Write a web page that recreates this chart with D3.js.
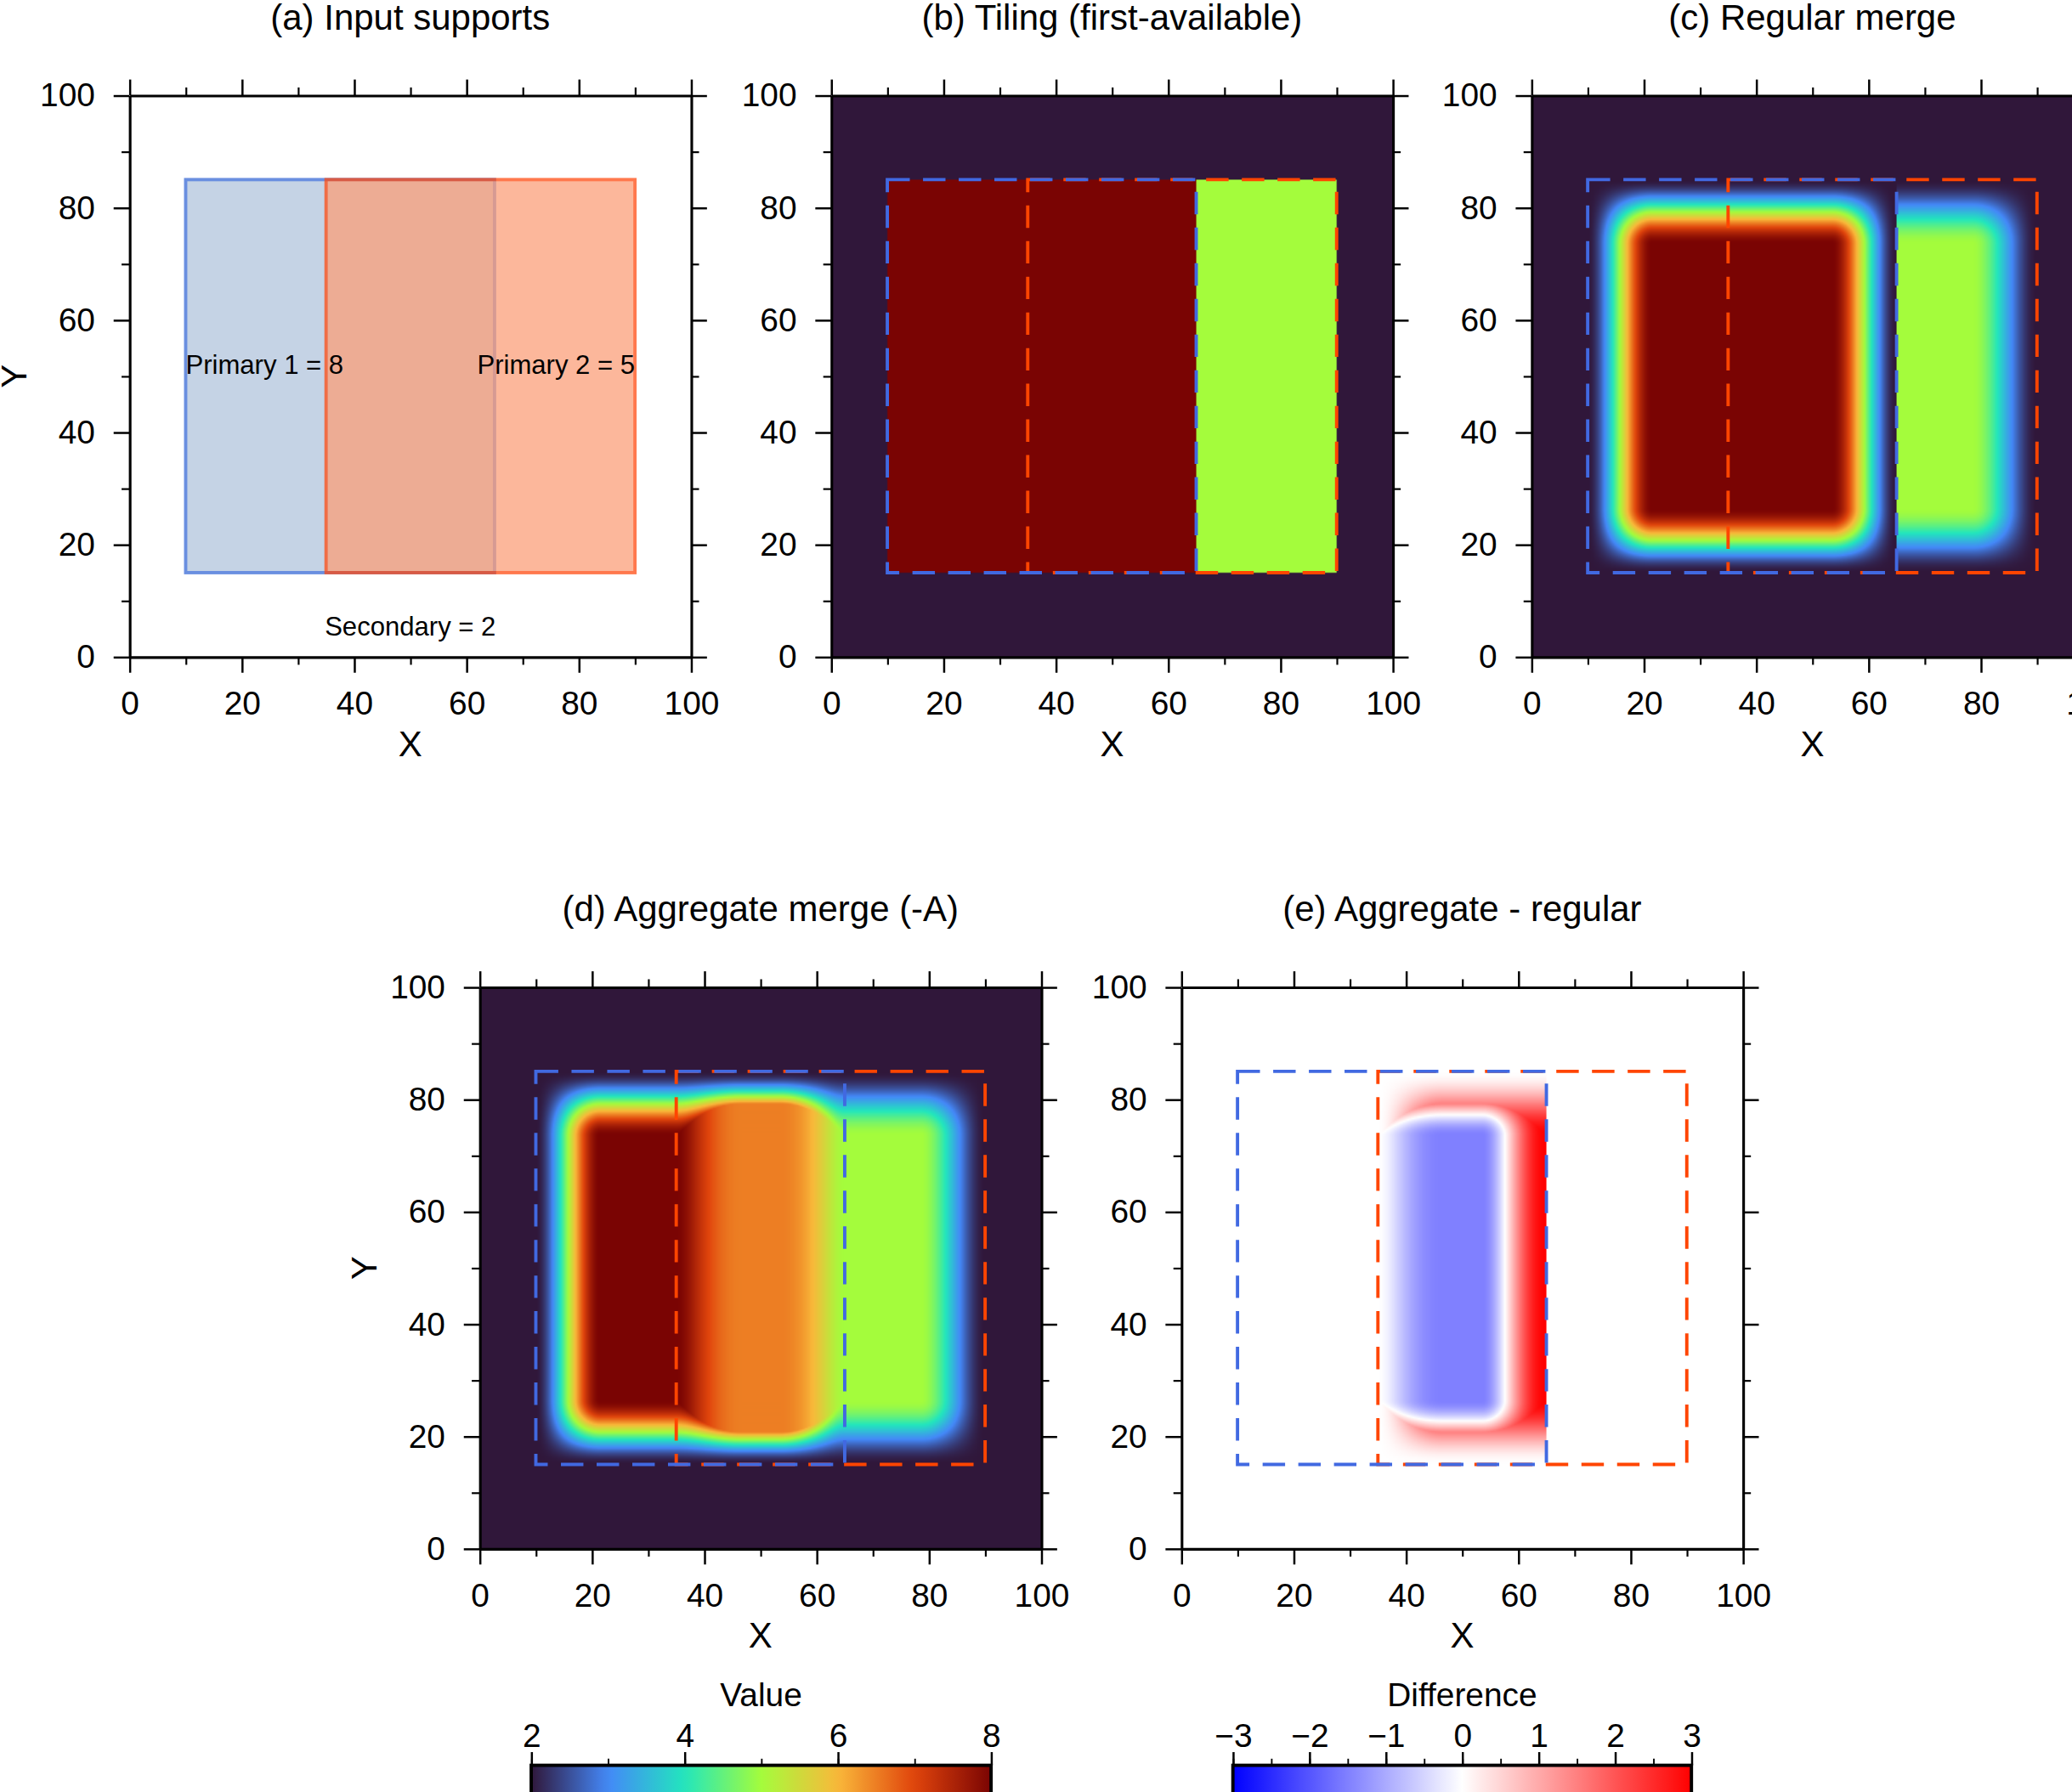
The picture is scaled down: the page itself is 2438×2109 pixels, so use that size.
<!DOCTYPE html>
<html>
<head>
<meta charset="utf-8">
<script src="https://cdn.jsdelivr.net/npm/d3@7"></script>
<style>
  body { margin: 0; background: #fff; }
  text { font-family: "Liberation Sans", Arial, sans-serif; fill: #000; }
</style>
</head>
<body>
<div id="chart"></div>
<script>
// supports: [x0, x1, y0, y1, value]
var primary1 = [10, 65, 15, 85, 8];
var primary2 = [35, 90, 15, 85, 5];
var secondaryValue = 2;
var featherWidth = 11.5;

var panelTitles = ["(a) Input supports", "(b) Tiling (first-available)", "(c) Regular merge",
                   "(d) Aggregate merge (-A)", "(e) Aggregate - regular"];
var axisTicks = [0, 20, 40, 60, 80, 100];
var valueTicks = [2, 4, 6, 8];
var diffTicks = [-3, -2, -1, 0, 1, 2, 3];
var valueStops = [2, 3, 4, 5, 6, 7, 8];
var valueColors = ["#30173a", "#4488f8", "#22e6bd", "#a4fc3c", "#f9b83a", "#e0440c", "#7a0403"];

var svgWidth = 2438, svgHeight = 2109;
var vbW = 1568, vbH = 1356;
var size = 425;

var svg = d3.select("#chart").append("svg")
  .attr("width", svgWidth)
  .attr("height", svgHeight)
  .attr("viewBox", `0 0 ${vbW} ${vbH}`);

var panels = [
  {x: 98, y: 72, ylab: true},
  {x: 629, y: 72, ylab: false},
  {x: 1159, y: 72, ylab: false},
  {x: 363, y: 747, ylab: true},
  {x: 894, y: 747, ylab: false}
];

var turbo = d3.scaleLinear().domain(valueStops).range(valueColors).clamp(true);
var diffColor = d3.scaleLinear().domain([-3, 0, 3]).range(["#0000ff", "#ffffff", "#ff0000"]).clamp(true);

function smooth(t) { t = Math.max(0, Math.min(1, t)); return t * t * (3 - 2 * t); }
function inside(s, x, y) { return x >= s[0] && x <= s[1] && y >= s[2] && y <= s[3]; }
function weight(s, x, y) {
  if (!inside(s, x, y)) return 0;
  return smooth((x - s[0]) / featherWidth) * smooth((s[1] - x) / featherWidth) *
         smooth((y - s[2]) / featherWidth) * smooth((s[3] - y) / featherWidth);
}
function tiling(x, y) {
  if (inside(primary1, x, y)) return primary1[4];
  if (inside(primary2, x, y)) return primary2[4];
  return secondaryValue;
}
function regular(x, y) {
  if (inside(primary1, x, y)) return secondaryValue + (primary1[4] - secondaryValue) * weight(primary1, x, y);
  if (inside(primary2, x, y)) return secondaryValue + (primary2[4] - secondaryValue) * weight(primary2, x, y);
  return secondaryValue;
}
function aggregate(x, y) {
  var w1 = weight(primary1, x, y), w2 = weight(primary2, x, y), W = w1 + w2;
  if (W <= 0) return secondaryValue;
  var b = (w1 * primary1[4] + w2 * primary2[4]) / W;
  return secondaryValue + (b - secondaryValue) * Math.min(1, W);
}

function fieldImage(fn, color) {
  var n = 400;
  var canvas = document.createElement("canvas");
  canvas.width = n; canvas.height = n;
  var ctx = canvas.getContext("2d");
  var img = ctx.createImageData(n, n);
  for (var j = 0; j < n; j++) {
    for (var i = 0; i < n; i++) {
      var x = (i + 0.5) / n * 100, y = 100 - (j + 0.5) / n * 100;
      var c = d3.rgb(color(fn(x, y)));
      var k = (j * n + i) * 4;
      img.data[k] = c.r; img.data[k + 1] = c.g; img.data[k + 2] = c.b; img.data[k + 3] = 255;
    }
  }
  ctx.putImageData(img, 0, 0);
  return canvas.toDataURL();
}

var fields = [null, [tiling, turbo], [regular, turbo], [aggregate, turbo],
  [function(x, y) { return aggregate(x, y) - regular(x, y); }, diffColor]];

panels.forEach(function(p, idx) {
  var g = svg.append("g").attr("transform", `translate(${p.x},${p.y})`);
  var x = d3.scaleLinear().domain([0, 100]).range([0, size]);
  var y = d3.scaleLinear().domain([0, 100]).range([size, 0]);

  if (fields[idx]) {
    g.append("image").attr("x", 0).attr("y", 0).attr("width", size).attr("height", size)
      .attr("preserveAspectRatio", "none")
      .attr("href", fieldImage(fields[idx][0], fields[idx][1]));
    [[primary2, "#ff4500"], [primary1, "#4169e1"]].forEach(function(d) {
      var s = d[0];
      g.append("rect").attr("x", x(s[0])).attr("y", y(s[3]))
        .attr("width", x(s[1]) - x(s[0])).attr("height", y(s[2]) - y(s[3]))
        .attr("fill", "none").attr("stroke", d[1]).attr("stroke-width", 2.5)
        .attr("stroke-dasharray", "17,10");
    });
  } else {
    g.append("rect").attr("x", x(primary1[0])).attr("y", y(primary1[3]))
      .attr("width", x(primary1[1]) - x(primary1[0])).attr("height", y(primary1[2]) - y(primary1[3]))
      .attr("fill", "#c5d3e5").attr("stroke", "#6a8fe0").attr("stroke-width", 2.5);
    g.append("rect").attr("x", x(primary2[0])).attr("y", y(primary2[3]))
      .attr("width", x(primary2[1]) - x(primary2[0])).attr("height", y(primary2[2]) - y(primary2[3]))
      .attr("fill", "rgb(252,159,121)").attr("stroke", "#ff4a10").attr("stroke-width", 2.5)
      .attr("opacity", 0.74);
    g.append("text").attr("x", x(primary1[0])).attr("y", y(52)).attr("dy", "0.35em")
      .style("font-size", "20px").text("Primary 1 = " + primary1[4]);
    g.append("text").attr("x", x(primary2[1])).attr("y", y(52)).attr("dy", "0.35em")
      .attr("text-anchor", "end").style("font-size", "20px").text("Primary 2 = " + primary2[4]);
    g.append("text").attr("x", x(50)).attr("y", y(5.5)).attr("dy", "0.35em")
      .attr("text-anchor", "middle").style("font-size", "20px").text("Secondary = " + secondaryValue);
  }

  var minor = d3.range(10, 100, 20);
  function axisStyle(sel, showLabels) {
    sel.selectAll(".domain").attr("stroke", "#000").attr("stroke-width", 2);
    sel.selectAll(".tick line").attr("stroke", "#000").attr("stroke-width", 1.6);
    sel.selectAll(".tick text").style("font-size", "25px").style("font-family", "Liberation Sans, Arial, sans-serif");
    if (!showLabels) sel.selectAll(".tick text").remove();
  }
  var xb = g.append("g").attr("transform", `translate(0,${size})`)
    .call(d3.axisBottom(x).tickValues(axisTicks).tickSize(12).tickSizeOuter(0).tickPadding(14));
  axisStyle(xb, true);
  var xt = g.append("g").call(d3.axisTop(x).tickValues(axisTicks).tickSize(12).tickSizeOuter(0));
  axisStyle(xt, false);
  var yl = g.append("g").call(d3.axisLeft(y).tickValues(axisTicks).tickSize(12).tickSizeOuter(0).tickPadding(14));
  axisStyle(yl, true);
  var yr = g.append("g").attr("transform", `translate(${size},0)`)
    .call(d3.axisRight(y).tickValues(axisTicks).tickSize(12).tickSizeOuter(0));
  axisStyle(yr, false);
  [[d3.axisBottom(x), `translate(0,${size})`], [d3.axisTop(x), null],
   [d3.axisLeft(y), null], [d3.axisRight(y), `translate(${size},0)`]].forEach(function(a) {
    var m = g.append("g").attr("transform", a[1]).call(a[0].tickValues(minor).tickSize(6).tickSizeOuter(0).tickFormat(""));
    m.select(".domain").remove();
    m.selectAll(".tick line").attr("stroke", "#000").attr("stroke-width", 1.4);
  });

  g.append("text").attr("x", size / 2).attr("y", -50).attr("text-anchor", "middle")
    .style("font-size", "27px").text(panelTitles[idx]);
  g.append("text").attr("x", size / 2).attr("y", size + 75).attr("text-anchor", "middle")
    .style("font-size", "27px").text("X");
  if (p.ylab) {
    g.append("text").attr("transform", `translate(-78,${size / 2}) rotate(-90)`)
      .attr("text-anchor", "middle").style("font-size", "27px").text("Y");
  }
});

// colorbars
function colorbar(x0, x1, domain, ticks, minorStep, colorFn, title, fmt) {
  var top = 1336, h = 24;
  var sc = d3.scaleLinear().domain(domain).range([x0, x1]);
  var id = "grad" + title;
  var grad = svg.append("defs").append("linearGradient").attr("id", id);
  d3.range(0, 1.0001, 0.025).forEach(function(t) {
    grad.append("stop").attr("offset", t).attr("stop-color", colorFn(domain[0] + t * (domain[1] - domain[0])));
  });
  svg.append("rect").attr("x", x0).attr("y", top).attr("width", x1 - x0).attr("height", h)
    .attr("fill", `url(#${id})`).attr("stroke", "#000").attr("stroke-width", 2.5);
  var ax = svg.append("g").attr("transform", `translate(0,${top})`)
    .call(d3.axisTop(sc).tickValues(ticks).tickSize(10).tickSizeOuter(0).tickPadding(4).tickFormat(fmt));
  ax.select(".domain").remove();
  ax.selectAll(".tick line").attr("stroke", "#000").attr("stroke-width", 1.6);
  ax.selectAll(".tick text").style("font-size", "25px").style("font-family", "Liberation Sans, Arial, sans-serif");
  var mn = svg.append("g").attr("transform", `translate(0,${top})`)
    .call(d3.axisTop(sc).tickValues(d3.range(domain[0], domain[1], minorStep)).tickSize(5).tickFormat(""));
  mn.select(".domain").remove();
  mn.selectAll(".tick line").attr("stroke", "#000").attr("stroke-width", 1.2);
  svg.append("text").attr("x", (x0 + x1) / 2).attr("y", 1291).attr("text-anchor", "middle")
    .style("font-size", "25px").text(title);
}
colorbar(402, 750, [2, 8], valueTicks, 1, turbo, "Value", d3.format("d"));
colorbar(933, 1280, [-3, 3], diffTicks, 0.5, diffColor, "Difference", function(d) { return d < 0 ? "\u2212" + (-d) : d; });
</script>
</body>
</html>
